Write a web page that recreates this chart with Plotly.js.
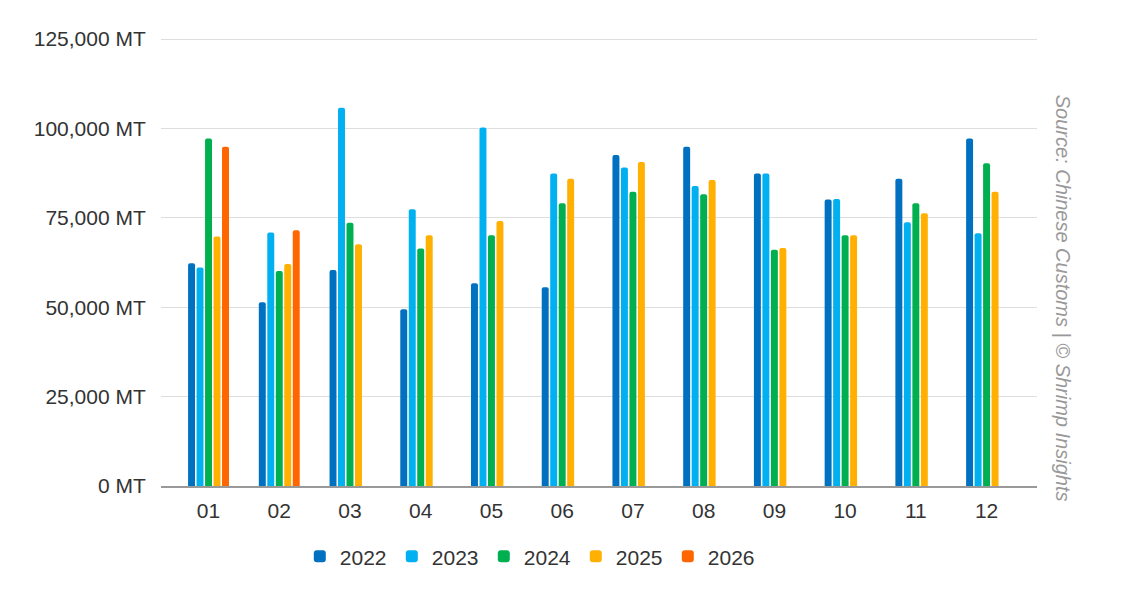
<!DOCTYPE html>
<html>
<head>
<meta charset="utf-8">
<script src="https://cdn.plot.ly/plotly-3.0.1.min.js"></script>
<style>html,body{margin:0;padding:0;background:#fff;}#chart{width:1138px;height:612px;}</style>
</head>
<body>
<div id="chart"></div>
<script>
const months = ["01","02","03","04","05","06","07","08","09","10","11","12"];
const y2022 = [62300, 51400, 60400, 49400, 56700, 55600, 92600, 94900, 87400, 80100, 85900, 97200];
const y2023 = [61100, 70900, 105800, 77400, 100300, 87400, 89100, 83900, 87400, 80300, 73800, 70700];
const y2024 = [97200, 60100, 73600, 66400, 70100, 79100, 82300, 81600, 66100, 70100, 79100, 90300];
const y2025 = [69800, 62100, 67600, 70100, 74100, 85900, 90600, 85600, 66600, 70100, 76300, 82300];
const y2026 = [94900, 71500, null, null, null, null, null, null, null, null, null, null];
const seriesNames = ["2022","2023","2024","2025","2026"];
const seriesColors = ["#0070C0","#00B0F0","#00B050","#FFB000","#FF6600"];
const yTickVals = [0, 25000, 50000, 75000, 100000, 125000];
const yTickText = ["0 MT","25,000 MT","50,000 MT","75,000 MT","100,000 MT","125,000 MT"];
const sourceText = "Source: Chinese Customs | © Shrimp Insights";

const allSeries = [y2022, y2023, y2024, y2025, y2026];
const traces = allSeries.map((vals, i) => ({
  type: "bar",
  x: months,
  y: vals,
  name: seriesNames[i],
  marker: {color: seriesColors[i], cornerradius: 2},
  hoverinfo: "x+y+name"
}));

const layout = {
  width: 1138, height: 612,
  margin: {l: 161, r: 101, t: 38, b: 126},
  paper_bgcolor: "#fff", plot_bgcolor: "#fff",
  font: {family: "Liberation Sans, Arial, sans-serif", size: 21, color: "#333"},
  barmode: "group",
  bargap: 0.4,
  bargroupgap: 0.18,
  showlegend: true,
  legend: {orientation: "h", x: 0.421, xanchor: "center", y: -0.112, yanchor: "top",
           font: {size: 21, color: "#333"}, itemwidth: 30, entrywidth: 47, traceorder: "normal"},
  xaxis: {type: "category", range: [-0.672, 11.713], showgrid: false, zeroline: false,
          showline: true, linecolor: "#999", linewidth: 1.5,
          ticks: "outside", ticklen: 5, tickcolor: "rgba(0,0,0,0)",
          tickfont: {size: 21, color: "#333"}, fixedrange: true},
  yaxis: {range: [0, 125300], tickvals: yTickVals, ticktext: yTickText,
          showgrid: true, gridcolor: "#dedede", gridwidth: 1, zeroline: false,
          ticks: "outside", ticklen: 10, tickcolor: "rgba(0,0,0,0)",
          tickfont: {size: 21, color: "#333"}, fixedrange: true},
  annotations: [{
    text: sourceText, xref: "paper", yref: "paper", x: 1.015, y: 0.42,
    xanchor: "left", yanchor: "middle", textangle: 90, showarrow: false,
    font: {size: 20, color: "#999", family: "Liberation Sans, Arial, sans-serif", style: "italic"}
  }]
};

Plotly.newPlot("chart", traces, layout, {displayModeBar: false, staticPlot: true});
</script>
</body>
</html>
